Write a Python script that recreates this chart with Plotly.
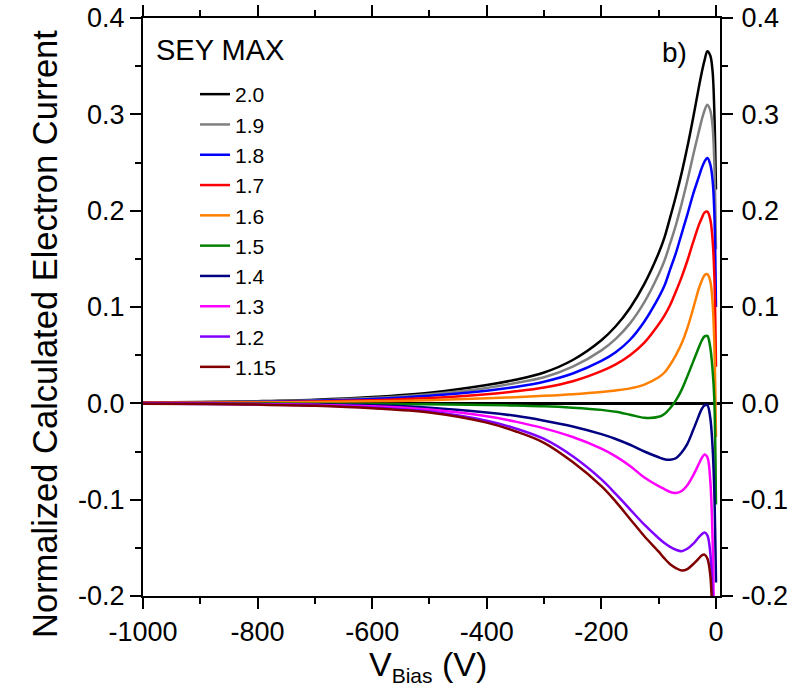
import plotly.graph_objects as go

v_bias = [-1000, -900, -800, -700, -600, -500, -400, -350, -300, -250, -200, -175, -150, -125,
          -100, -90, -80, -70, -60, -50, -40, -30, -25, -20, -15, -10, -6, -3, 0]

sey_labels = ["2.0", "1.9", "1.8", "1.7", "1.6", "1.5", "1.4", "1.3", "1.2", "1.15"]
colors = ["#000000", "#808080", "#0000FF", "#FF0000", "#FF8000",
          "#008000", "#000080", "#FF00FF", "#8000FF", "#800000"]

i_20 = [0.0008, 0.0013, 0.0022, 0.0037, 0.0065, 0.011, 0.019, 0.0245, 0.032, 0.045, 0.0655, 0.080, 0.099, 0.124,
        0.156, 0.172, 0.193, 0.215, 0.239, 0.266, 0.296, 0.328, 0.343, 0.356, 0.3655, 0.361, 0.345, 0.305, 0.222]
i_19 = [0.0007, 0.0011, 0.0019, 0.0032, 0.0055, 0.0095, 0.016, 0.021, 0.027, 0.038, 0.055, 0.067, 0.083, 0.105,
        0.134, 0.148, 0.166, 0.185, 0.207, 0.231, 0.257, 0.282, 0.294, 0.304, 0.310, 0.304, 0.288, 0.252, 0.160]
i_18 = [0.0006, 0.0009, 0.0015, 0.0026, 0.0045, 0.0078, 0.013, 0.017, 0.0225, 0.031, 0.044, 0.053, 0.066, 0.085,
        0.110, 0.122, 0.139, 0.156, 0.176, 0.196, 0.217, 0.235, 0.244, 0.251, 0.2546, 0.248, 0.232, 0.200, 0.100]
i_17 = [0.0005, 0.0007, 0.0011, 0.0019, 0.0033, 0.0056, 0.0095, 0.0125, 0.0165, 0.023, 0.0335, 0.0405, 0.050, 0.063,
        0.082, 0.091, 0.102, 0.116, 0.131, 0.148, 0.167, 0.185, 0.192, 0.198, 0.199, 0.191, 0.170, 0.135, 0.038]
i_16 = [0.0003, 0.0005, 0.0008, 0.0013, 0.0021, 0.0033, 0.0052, 0.0064, 0.0078, 0.0095, 0.0118, 0.0134, 0.0155, 0.0195,
        0.027, 0.032, 0.040, 0.050, 0.062, 0.078, 0.098, 0.119, 0.127, 0.133, 0.134, 0.127, 0.105, 0.065, -0.035]
i_15 = [0.0, 0.0, -0.0002, -0.0004, -0.0007, -0.001, -0.0017, -0.0023, -0.003, -0.0045, -0.0068, -0.0088, -0.0118, -0.0150,
        -0.0140, -0.0110, -0.0050, 0.003, 0.014, 0.028, 0.043, 0.058, 0.065, 0.0695, 0.070, 0.058, 0.035, 0.005, -0.105]
i_14 = [-0.0001, -0.0003, -0.0006, -0.0011, -0.002, -0.0045, -0.0095, -0.013, -0.018, -0.024, -0.032, -0.037, -0.043, -0.050,
        -0.056, -0.058, -0.0585, -0.057, -0.051, -0.042, -0.028, -0.013, -0.006, -0.002, -0.002, -0.015, -0.045, -0.090, -0.186]
i_13 = [-0.0002, -0.0004, -0.0008, -0.0015, -0.003, -0.0065, -0.0135, -0.019, -0.026, -0.035, -0.047, -0.055, -0.065, -0.077,
        -0.086, -0.089, -0.092, -0.093, -0.091, -0.085, -0.075, -0.063, -0.057, -0.053, -0.056, -0.080, -0.140, -0.250, -0.400]
i_12 = [-0.0003, -0.0006, -0.0011, -0.0021, -0.0042, -0.0085, -0.018, -0.026, -0.037, -0.055, -0.079, -0.094, -0.110, -0.126,
        -0.140, -0.145, -0.149, -0.152, -0.1535, -0.151, -0.146, -0.139, -0.136, -0.134, -0.137, -0.155, -0.200, -0.280, -0.400]
i_115 = [-0.0004, -0.0007, -0.0013, -0.0025, -0.005, -0.0095, -0.020, -0.029, -0.041, -0.061, -0.086, -0.102, -0.120, -0.138,
         -0.154, -0.161, -0.167, -0.171, -0.1735, -0.172, -0.167, -0.161, -0.158, -0.157, -0.161, -0.178, -0.230, -0.320, -0.450]

series = [i_20, i_19, i_18, i_17, i_16, i_15, i_14, i_13, i_12, i_115]

x_ticks = [-1000, -800, -600, -400, -200, 0]
x_ticktext = ["-1000", "-800", "-600", "-400", "-200", "0"]
y_ticks = [-0.2, -0.1, 0.0, 0.1, 0.2, 0.3, 0.4]
y_ticktext = ["-0.2", "-0.1", "0.0", "0.1", "0.2", "0.3", "0.4"]

FONT = "Liberation Sans, Arial, sans-serif"
L, R, T, B = 143, 71, 18, 98
PW, PH = 791 - L - R, 694 - T - B


def px_x(px):
    return (px - L) / PW


def px_y(py):
    return 1 - (py - T) / PH


fig = go.Figure()
for lab, col, ys in zip(sey_labels, colors, series):
    fig.add_trace(go.Scatter(x=v_bias, y=ys, mode="lines", name=lab,
                             line=dict(color=col, width=2.5, shape="spline", smoothing=1.0)))

# invisible trace to drive the right-hand axis
fig.add_trace(go.Scatter(x=[-1000], y=[0], yaxis="y2", mode="lines",
                         showlegend=False, hoverinfo="skip", line=dict(width=0)))

axis_common = dict(showline=True, linecolor="black", linewidth=2, ticks="outside",
                   ticklen=11, tickwidth=2, tickcolor="black", showgrid=False, automargin=False,
                   tickangle=0, tickfont=dict(family=FONT, size=27, color="black"))

fig.update_layout(
    width=791, height=694,
    margin=dict(l=L, r=R, t=T, b=B, autoexpand=False),
    paper_bgcolor="white", plot_bgcolor="white",
    font=dict(family=FONT, color="black"),
    xaxis=dict(range=[-1000, 7], tickvals=x_ticks, ticktext=x_ticktext, mirror="ticks",
               minor=dict(ticks="outside", dtick=100, tick0=0, ticklen=6, tickwidth=2, tickcolor="black"),
               zeroline=False, ticklabelstandoff=0, **axis_common),
    yaxis=dict(range=[-0.2, 0.4], tickvals=y_ticks, ticktext=y_ticktext, mirror=False,
               minor=dict(ticks="outside", dtick=0.05, tick0=0, ticklen=6, tickwidth=2, tickcolor="black"),
               zeroline=True, zerolinecolor="black", zerolinewidth=2.5, ticklabelstandoff=0,
               **axis_common),
    yaxis2=dict(range=[-0.2, 0.4], tickvals=y_ticks, ticktext=y_ticktext, overlaying="y", side="right",
                minor=dict(ticks="outside", dtick=0.05, tick0=0, ticklen=6, tickwidth=2, tickcolor="black"),
                zeroline=False, ticklabelstandoff=3, **axis_common),
    showlegend=True,
    legend=dict(x=px_x(195), y=px_y(74),
                xanchor="left", yanchor="top", bgcolor="rgba(0,0,0,0)", borderwidth=0,
                font=dict(family=FONT, size=21, color="black"), itemwidth=30, tracegroupgap=0),
    annotations=[
        dict(text="Normalized Calculated Electron Current", xref="paper", yref="paper",
             x=px_x(45), y=px_y(334), xanchor="center", yanchor="middle", textangle=-90,
             showarrow=False, font=dict(family=FONT, size=34.5, color="black")),
        dict(text="V<sub><span style='font-size:21px'>Bias</span></sub> (V)", xref="paper", yref="paper",
             x=px_x(428), y=px_y(666), xanchor="center", yanchor="middle",
             showarrow=False, font=dict(family=FONT, size=34, color="black")),
        dict(text="SEY MAX", xref="paper", yref="paper", x=px_x(154), y=px_y(50),
             xanchor="left", yanchor="middle", showarrow=False, font=dict(family=FONT, size=29, color="black")),
        dict(text="b)", xref="paper", yref="paper", x=px_x(674), y=px_y(52),
             xanchor="center", yanchor="middle", showarrow=False, font=dict(family=FONT, size=28, color="black")),
    ],
)

fig.write_html("out.html")
